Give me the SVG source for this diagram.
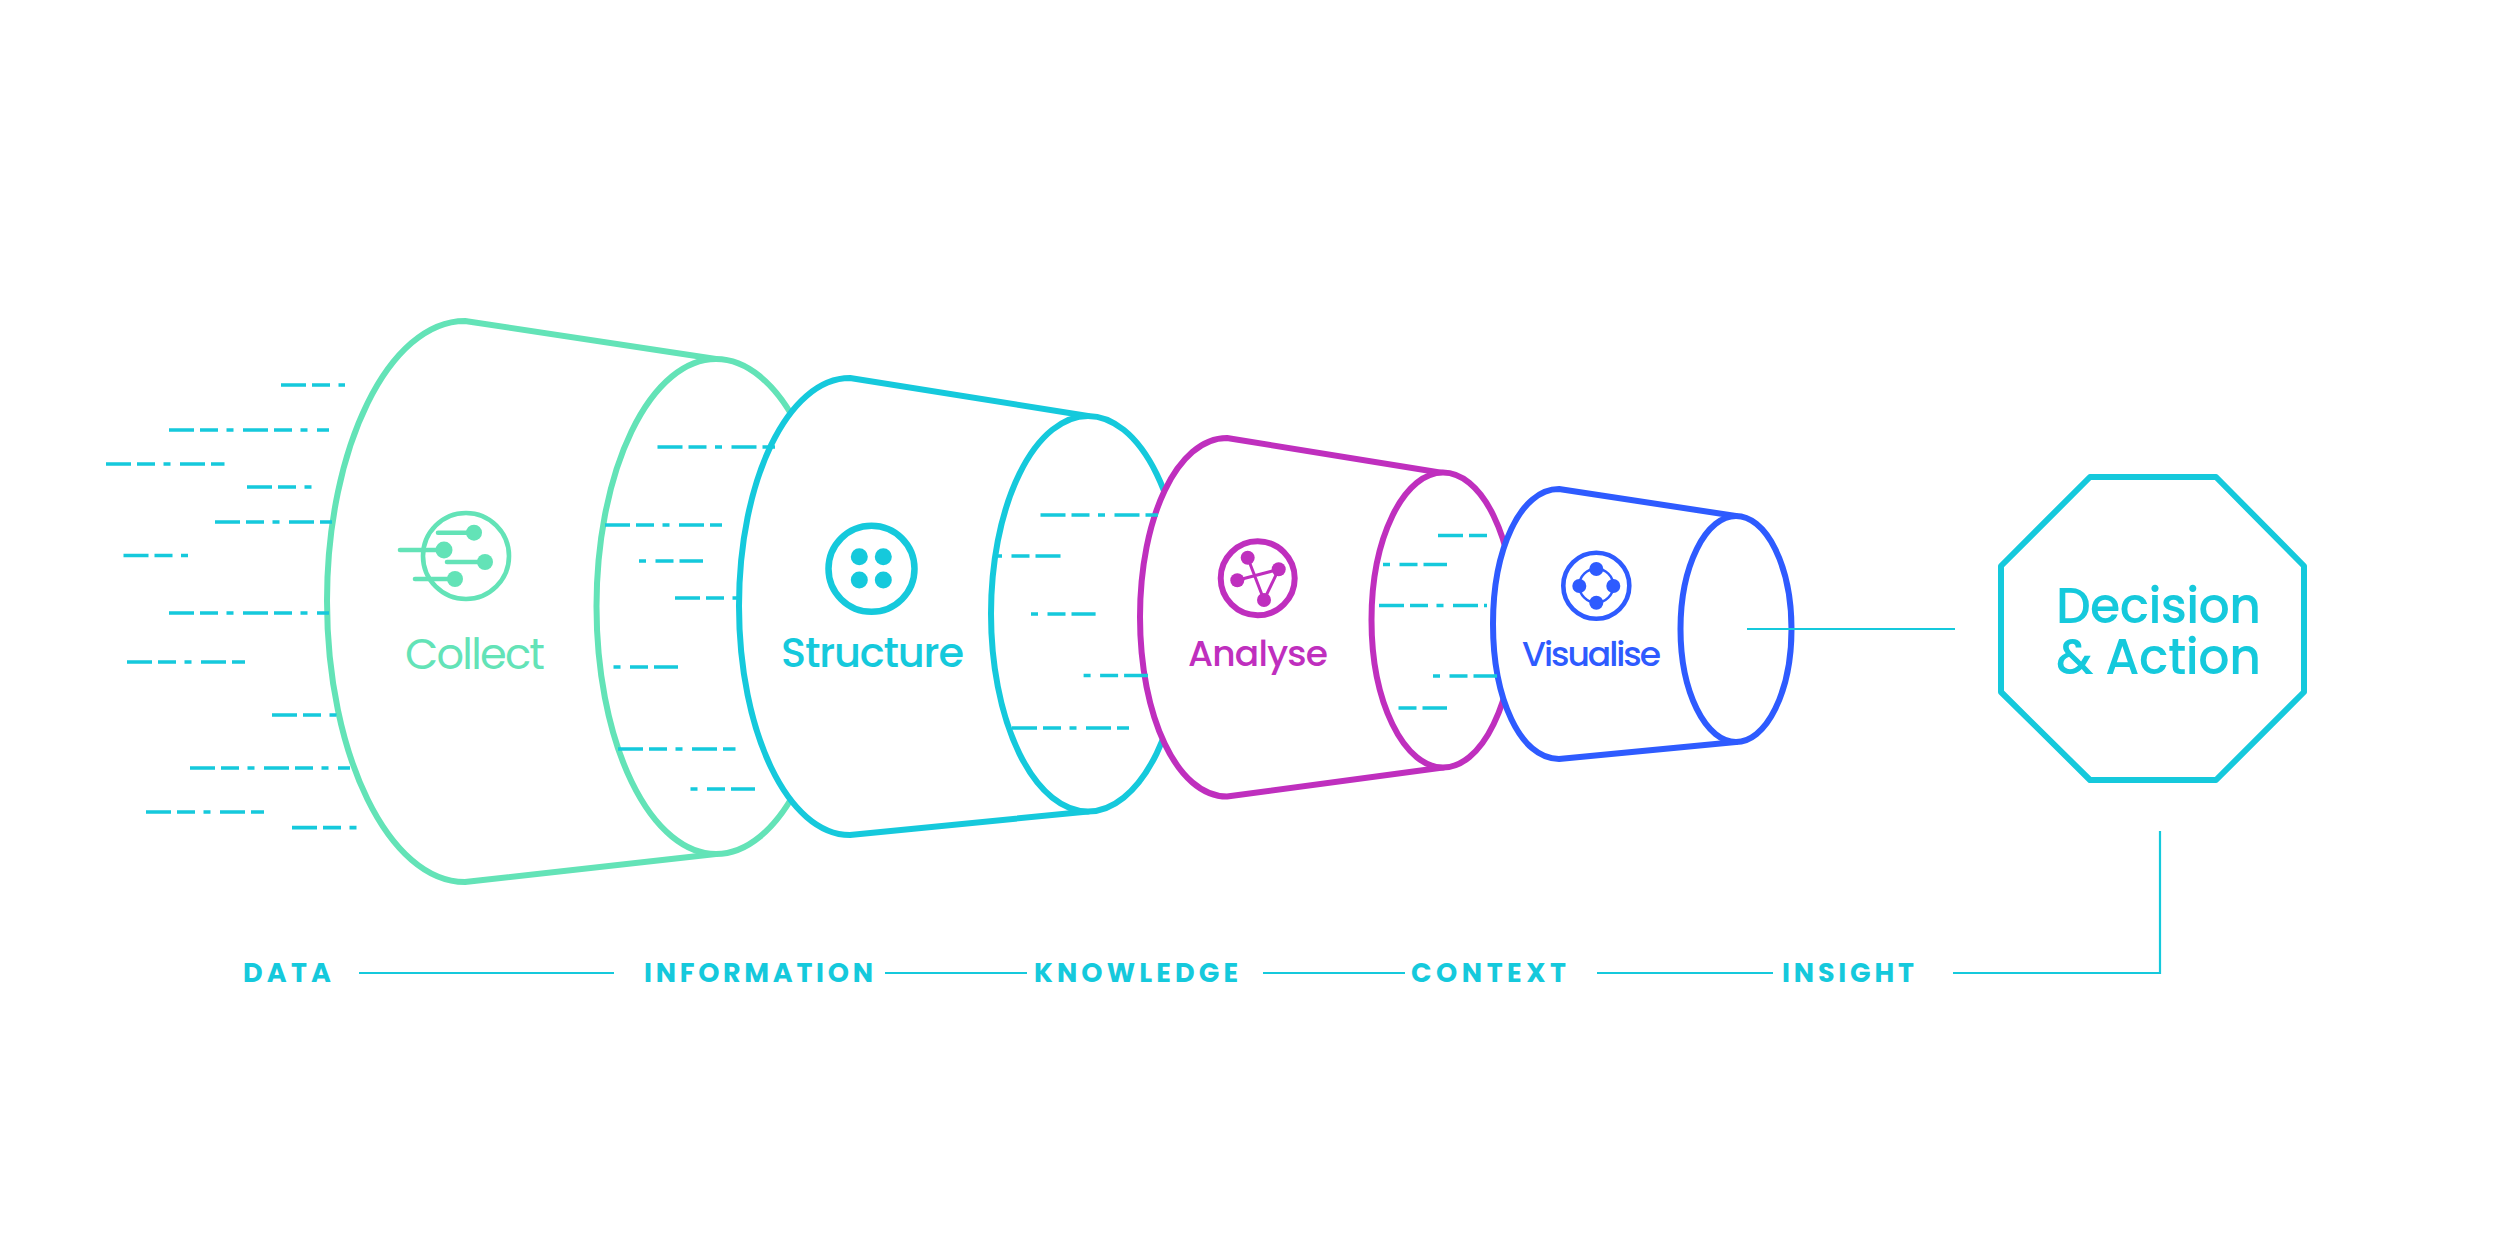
<svg xmlns="http://www.w3.org/2000/svg" width="2500" height="1233" viewBox="0 0 2500 1233">
<style>
text{font-family:"Poppins","Inter","Liberation Sans",sans-serif}
.s{fill:none;stroke-width:6;stroke-linejoin:round}
.w{fill:#fff}
.green{stroke:#63E3B7}.cyan{stroke:#15C9DC}.purple{stroke:#BF2FBE}.blue{stroke:#2E5BFF}
.fg{fill:#63E3B7}.fc{fill:#15C9DC}.fp{fill:#BF2FBE}.fb{fill:#2E5BFF}
.n{stroke:#15C9DC;stroke-width:3.6;stroke-dasharray:25 6 18 8.5 7 9.5;fill:none}
.r{stroke:#15C9DC;stroke-width:3.6;stroke-dasharray:7 9.5 18 6 25 8.5;fill:none}
.t{stroke:#15C9DC;stroke-width:2.2;fill:none}
.lab{font-size:27px;font-weight:700;fill:#15C9DC}
.name{font-weight:500}
</style>

<g id="collect">
<path class="s green w" d="M716 359L465 321C389 321 327 447 327 601C327 755 389 882 465 882L716 854Z"/>
<ellipse class="s green w" cx="716" cy="606.500" rx="119.500" ry="247.500"/>
<g class="green" fill="none" stroke-linecap="round" stroke-width="4.600">
<circle cx="466" cy="556" r="43"/>
<path d="M438 532.700H474M400 550H444M447 562H485M415 579H455"/>
</g>
<g class="fg"><circle cx="474" cy="532.700" r="8"/><circle cx="444" cy="550" r="8.500"/><circle cx="485" cy="562" r="8"/><circle cx="455" cy="579" r="8"/></g>
<text class="fg" x="405" y="669" font-size="43" textLength="140">Collect</text>
</g>

<g id="structure">
<path class="s cyan w" d="M1088 416L850 378C788 378 739 480 739 606C739 732 788 835 850 835L1088 811.500Z"/>
<ellipse class="s cyan w" cx="1088" cy="613.700" rx="97" ry="197.800"/>
<circle class="cyan" fill="none" stroke-width="6.500" cx="871.500" cy="568.800" r="43"/>
<g class="fc"><circle cx="859.300" cy="556.700" r="8.500"/><circle cx="883.300" cy="556.700" r="8.500"/><circle cx="859.300" cy="580" r="8.500"/><circle cx="883.300" cy="580" r="8.500"/></g>
<text class="fc name" x="781" y="667" font-size="41.500" textLength="183">Structure</text>
</g>

<g id="analyse">
<path class="s purple w" d="M1443 473L1227 438C1177 438 1140 518 1140 617C1140 716 1177 796.500 1227 796.500L1443 767.500Z"/>
<ellipse class="s purple w" cx="1443" cy="620" rx="71.500" ry="147.500"/>
<circle class="purple" fill="none" stroke-width="6" cx="1257.700" cy="578.300" r="37"/>
<path class="purple" fill="none" stroke-width="3" d="M1247.700 557.700L1264 600L1278.700 569.300L1237.300 580.300"/>
<g class="fp"><circle cx="1247.700" cy="557.700" r="7"/><circle cx="1278.700" cy="569.300" r="7"/><circle cx="1237.300" cy="580.300" r="7"/><circle cx="1264" cy="600" r="7"/></g>
<text class="fp name" x="1188" y="666" font-size="36" textLength="140">Analyse</text>
</g>

<g id="visualise">
<path class="s blue w" d="M1736 516L1559 489C1520 489 1493 550 1493 624C1493 698 1520 759 1559 759L1736 742Z"/>
<ellipse class="s blue w" cx="1736" cy="629" rx="55.500" ry="113"/>
<circle class="blue" fill="none" stroke-width="4.600" cx="1596.300" cy="585.700" r="33"/>
<circle class="blue" fill="none" stroke-width="2.400" cx="1596.300" cy="585.700" r="17"/>
<g class="fb"><circle cx="1596.300" cy="569" r="7"/><circle cx="1613.300" cy="586" r="7"/><circle cx="1596.300" cy="602.700" r="7"/><circle cx="1579.300" cy="586" r="7"/></g>
<text class="fb name" x="1522" y="666" font-size="34.500" textLength="139">Visualise</text>
</g>

<g id="decision-action">
<path class="s cyan" d="M2090 477H2216L2304 566V692L2216 780H2090L2001 692V566Z"/>
<text class="fc name" font-size="49"><tspan x="2056" y="622.500" textLength="205">Decision</tspan><tspan x="2056" y="673.500" textLength="205">&amp; Action</tspan></text>
</g>

<g id="connectors">
<path class="t" d="M1747 629H1955M359 973H614M885 973H1027M1263 973H1405M1597 973H1773M1953 973H2160V831"/>
<path class="n" d="M281 385H345M169 430H329M106 464H224.500M247 487H311.600M215 522H332M123.500 555.500H188M169 613H329M127 662H245M272 715H337M190 768H350M146 812H264M292 827.600H357"/>
<path class="n" d="M657.500 447H775"/><path class="n" d="M605 525H722"/><path class="r" d="M639 561H703"/><path class="n" d="M675 598H740"/><path class="r" d="M613.500 667H678"/><path class="n" d="M618 749H735.500"/><path class="r" d="M690.500 789H755"/>
<path class="n" d="M1040.500 515H1158"/><path class="r" d="M995 556H1062"/><path class="r" d="M1031 614H1095.600"/><path class="r" d="M1083.600 675.500H1148"/><path class="n" d="M1012 728H1129"/>
<path class="n" d="M1438 535.500H1487"/><path class="r" d="M1383 564.500H1447"/><path class="n" d="M1379 605.500H1487"/><path class="r" d="M1433 676H1497"/><path class="r" d="M1398.500 708H1447" stroke-dashoffset="16.500"/>
</g>

<g id="labels">
<text class="lab" x="243" y="982" textLength="88">DATA</text>
<text class="lab" x="644" y="982" textLength="229">INFORMATION</text>
<text class="lab" x="1034" y="982" textLength="204">KNOWLEDGE</text>
<text class="lab" x="1411" y="982" textLength="155">CONTEXT</text>
<text class="lab" x="1782" y="982" textLength="132">INSIGHT</text>
</g>
</svg>
